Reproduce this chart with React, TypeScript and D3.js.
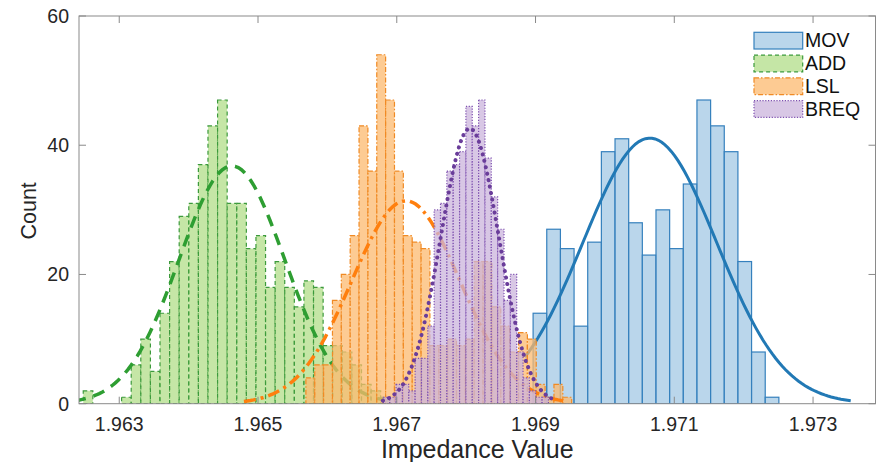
import React from 'react';
import * as d3 from 'd3';

// histogram bins: first edge, bin width, counts per bin
const movStart = 1.968965;
const movWidth = 0.0001968;
const movCounts = [14, 27, 24, 12, 25, 39, 41, 28, 23, 30, 24, 34, 47, 43, 39, 22, 8, 1];

const addStart = 1.962481;
const addWidth = 0.0001383;
const addCounts = [2, 0, 0, 0, 1, 6, 10, 5, 14, 22, 29, 31, 37, 43, 47, 31, 31, 24, 26, 18, 22, 18, 15, 19, 18, 9, 9, 8, 6, 3, 2, 1];

const lslStart = 1.96569;
const lslWidth = 0.0001277;
const lslCounts = [4, 6, 6, 16, 20, 26, 43, 36, 54, 47, 36, 26, 25, 24, 9, 9, 10, 9, 10, 22, 22, 15, 12, 8, 11, 10, 3, 1, 3, 1];

const breqStart = 1.966807;
const breqWidth = 0.0000915;
const breqCounts = [1, 1, 3, 3, 2, 7, 7, 12, 30, 31, 36, 37, 39, 46, 43, 47, 38, 32, 27, 16, 20, 8, 4, 2, 1, 1];

// normal fits: [mean, sd, peak count, x from, x to]
const movFit = [1.970647, 0.000965, 41.1, 1.968846, 1.973543];
const addFit = [1.964624, 0.000761, 36.8, 1.962348, 1.966901];
const lslFit = [1.967131, 0.000778, 31.4, 1.964797, 1.969465];
const breqFit = [1.968053, 0.000418, 42.6, 1.9668, 1.969307];

const seriesNames = ['MOV', 'ADD', 'LSL', 'BREQ'];
const xTicks = [1.963, 1.965, 1.967, 1.969, 1.971, 1.973];
const yTicks = [0, 20, 40, 60];

const font = '"Liberation Sans", Arial, Helvetica, sans-serif';

const styles = [
  { fill: '#a3c8e4', edge: '#3580bd', edgeDash: 'none', line: '#2279b5', lineW: 3, lineDash: 'none', cap: 'butt' },
  { fill: '#b2dd88', edge: '#3c9a3c', edgeDash: '4,3', line: '#2e9e32', lineW: 3.5, lineDash: '12,8', cap: 'butt' },
  { fill: '#fcb96f', edge: '#f08a24', edgeDash: '5,2,1.5,2', line: '#ff7f0e', lineW: 3.5, lineDash: '12,5,3,5', cap: 'butt' },
  { fill: '#cbb4dc', edge: '#7e50b0', edgeDash: '1.2,1.6', line: '#6a3d9a', lineW: 4, lineDash: '0.1,6.5', cap: 'round' },
];

const hists = [
  { start: movStart, width: movWidth, counts: movCounts, fit: movFit },
  { start: addStart, width: addWidth, counts: addCounts, fit: addFit },
  { start: lslStart, width: lslWidth, counts: lslCounts, fit: lslFit },
  { start: breqStart, width: breqWidth, counts: breqCounts, fit: breqFit },
];

export default function App() {
  const left = 79, right = 875.5, top = 16, bottom = 403.7;

  const x = d3.scaleLinear().domain([1.96242, 1.9739]).range([left, right]);
  const y = d3.scaleLinear().domain([0, 60]).range([bottom, top]);

  const line = d3.line<number[]>().x(d => x(d[0])).y(d => y(d[1]));

  const fitPoints = (f: number[]) =>
    d3.range(101).map(i => {
      const v = f[3] + (f[4] - f[3]) * i / 100;
      return [v, f[2] * Math.exp(-0.5 * ((v - f[0]) / f[1]) ** 2)];
    });

  return (
    <svg width={876} height={462} style={{ position: 'absolute', left: 0, top: 0, background: '#fff' }}>
      <defs>
        <clipPath id="plot">
          <rect x={left} y={top} width={right - left} height={bottom - top} />
        </clipPath>
      </defs>

      <g clipPath="url(#plot)">
        {hists.map((h, k) => {
          const s = styles[k];
          return (
            <g key={k}>
              {h.counts.map((c, i) =>
                c > 0 ? (
                  <rect
                    key={i}
                    x={x(h.start + i * h.width)}
                    y={y(c)}
                    width={x(h.start + (i + 1) * h.width) - x(h.start + i * h.width)}
                    height={y(0) - y(c)}
                    fill={s.fill}
                    fillOpacity={0.75}
                    stroke={s.edge}
                    strokeWidth={1.2}
                    strokeDasharray={s.edgeDash}
                  />
                ) : null
              )}
              <path
                d={line(fitPoints(h.fit)) || ''}
                fill="none"
                stroke={s.line}
                strokeWidth={s.lineW}
                strokeDasharray={s.lineDash}
                strokeLinecap={s.cap as any}
              />
            </g>
          );
        })}
      </g>

      {/* axes box */}
      <rect x={left} y={top} width={right - left} height={bottom - top} fill="none" stroke="#8a8a8a" strokeWidth={1} />

      {xTicks.map(t => (
        <g key={t}>
          <line x1={x(t)} x2={x(t)} y1={bottom} y2={bottom - 7} stroke="#8a8a8a" />
          <line x1={x(t)} x2={x(t)} y1={top} y2={top + 7} stroke="#8a8a8a" />
          <text x={x(t)} y={431} textAnchor="middle" fontFamily={font} fontSize={19.5} fill="#262626">
            {t.toFixed(3)}
          </text>
        </g>
      ))}
      {yTicks.map(t => (
        <g key={t}>
          <line x1={left} x2={left + 7} y1={y(t)} y2={y(t)} stroke="#8a8a8a" />
          <line x1={right} x2={right - 7} y1={y(t)} y2={y(t)} stroke="#8a8a8a" />
          <text x={69} y={y(t) + 7} textAnchor="end" fontFamily={font} fontSize={19.5} fill="#262626">
            {t}
          </text>
        </g>
      ))}

      <text x={(left + right) / 2} y={458} textAnchor="middle" fontFamily={font} fontSize={25} fill="#262626">
        Impedance Value
      </text>
      <text transform={`translate(36,${(top + bottom) / 2 + 1}) rotate(-90)`} textAnchor="middle" fontFamily={font} fontSize={21.5} fill="#262626">
        Count
      </text>

      {/* legend */}
      {seriesNames.map((n, i) => {
        const s = styles[i];
        const ly = 32.3 + i * 22.8;
        return (
          <g key={n}>
            <rect x={754} y={ly} width={48.7} height={16.7} fill={s.fill} fillOpacity={0.75}
              stroke={s.edge} strokeWidth={1.2} strokeDasharray={s.edgeDash} />
            <text x={805} y={ly + 15} fontFamily={font} fontSize={19.5} fill="#111">
              {n}
            </text>
          </g>
        );
      })}
    </svg>
  );
}
